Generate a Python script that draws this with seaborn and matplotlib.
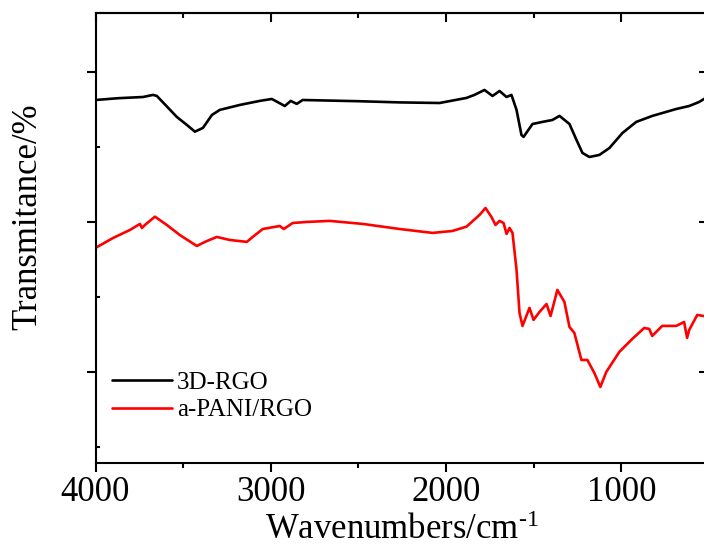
import numpy as np
import pandas as pd
import matplotlib
matplotlib.use("Agg")
import matplotlib.pyplot as plt
from matplotlib.ticker import MultipleLocator, NullFormatter
import seaborn as sns

# ---- data ----
rgo_wn = [4000, 3870, 3729, 3672, 3650, 3593, 3536, 3479, 3433, 3387, 3336, 3291, 3177,
          3063, 2994, 2920, 2886, 2852, 2818, 2500, 2265, 2037, 1883, 1838, 1781, 1735,
          1695, 1655, 1627, 1598, 1570, 1558, 1507, 1450, 1393, 1353, 1296, 1256, 1222,
          1182, 1125, 1068, 994, 915, 823, 687, 613, 556, 500]
rgo_t = [2.813, 2.825, 2.833, 2.847, 2.84, 2.77, 2.70, 2.647, 2.602, 2.627, 2.713, 2.747,
         2.78, 2.807, 2.82, 2.773, 2.807, 2.787, 2.813, 2.805, 2.797, 2.793, 2.827, 2.847,
         2.88, 2.84, 2.873, 2.833, 2.847, 2.747, 2.58, 2.567, 2.653, 2.667, 2.68, 2.707,
         2.653, 2.547, 2.46, 2.433, 2.447, 2.493, 2.593, 2.667, 2.707, 2.753, 2.773, 2.8,
         2.84]

pani_wn = [4000, 3900, 3803, 3746, 3735, 3718, 3661, 3593, 3519, 3422, 3370, 3308, 3234,
           3137, 3103, 3046, 2949, 2926, 2875, 2795, 2664, 2476, 2265, 2077, 1963, 1883,
           1809, 1775, 1741, 1718, 1695, 1672, 1655, 1638, 1621, 1598, 1581, 1564, 1524,
           1501, 1467, 1427, 1404, 1365, 1325, 1296, 1268, 1228, 1194, 1154, 1120, 1086,
           1012, 938, 870, 841, 824, 767, 687, 642, 625, 613, 567, 500]
pani_t = [1.827, 1.893, 1.947, 1.987, 1.96, 1.98, 2.035, 1.98, 1.913, 1.84, 1.87, 1.9,
          1.88, 1.867, 1.9, 1.953, 1.973, 1.953, 1.993, 2.0, 2.007, 1.987, 1.953, 1.927,
          1.94, 1.969, 2.047, 2.093, 2.033, 1.98, 2.007, 1.993, 1.92, 1.96, 1.927, 1.68,
          1.393, 1.307, 1.427, 1.347, 1.4, 1.453, 1.373, 1.547, 1.467, 1.3, 1.26, 1.08,
          1.08, 0.993, 0.9, 1.0, 1.133, 1.22, 1.293, 1.287, 1.24, 1.307, 1.307, 1.333,
          1.227, 1.28, 1.38, 1.367]

series_names = ["3D-RGO", "a-PANI/RGO"]
colors = {"3D-RGO": "black", "a-PANI/RGO": "red"}
x_major = [4000, 3000, 2000, 1000]

df = pd.concat([
    pd.DataFrame({"wn": rgo_wn, "T": rgo_t, "sample": series_names[0]}),
    pd.DataFrame({"wn": pani_wn, "T": pani_t, "sample": series_names[1]}),
])

sns.set_style("ticks")
plt.rcParams["font.family"] = ["Liberation Serif", "DejaVu Serif"]
plt.rcParams["mathtext.fontset"] = "custom"
plt.rcParams["mathtext.rm"] = "Liberation Serif"
plt.rcParams["mathtext.it"] = "Liberation Serif:italic"
for k in ["text.color", "axes.labelcolor", "xtick.color", "ytick.color", "axes.edgecolor"]:
    plt.rcParams[k] = "black"

fig = plt.figure(figsize=(7.04, 5.54), dpi=100)
ax = fig.add_axes([95.5 / 704, (554 - 463) / 554, (709 - 95.5) / 704, (463 - 12.7) / 554])

sns.lineplot(data=df, x="wn", y="T", hue="sample", palette=colors, estimator=None,
             linewidth=1.9, ax=ax, legend=True)

ax.set_xlim(4000, 500)
ax.set_ylim(0.393, 3.395)

for s in ax.spines.values():
    s.set_linewidth(1.5)
    s.set_color("black")

ax.set_xticks(x_major)
ax.set_xticklabels([str(v) for v in x_major])
ax.xaxis.set_minor_locator(MultipleLocator(500))
ax.yaxis.set_major_locator(MultipleLocator(1))
ax.yaxis.set_minor_locator(MultipleLocator(0.5))
ax.yaxis.set_major_formatter(NullFormatter())

ax.tick_params(axis="x", which="major", direction="out", length=6.5, width=1.5,
               labelsize=25, pad=3, colors="black")
ax.tick_params(axis="x", which="minor", direction="out", length=3.6, width=1.5)
ax.tick_params(axis="y", which="major", direction="out", length=6.5, width=1.5)
ax.tick_params(axis="y", which="minor", direction="in", length=3, width=1.5)

top = ax.secondary_xaxis("top")
top.set_xticks(x_major)
top.xaxis.set_minor_locator(MultipleLocator(500))
top.xaxis.set_major_formatter(NullFormatter())
top.tick_params(which="major", direction="in", length=6.5, width=1.5)
top.tick_params(which="minor", direction="in", length=3.6, width=1.5)
for s in top.spines.values():
    s.set_linewidth(1.5)

right = ax.secondary_yaxis("right")
right.yaxis.set_major_locator(MultipleLocator(1))
right.yaxis.set_minor_locator(MultipleLocator(0.5))
right.yaxis.set_major_formatter(NullFormatter())
right.tick_params(which="major", direction="in", length=7, width=1.5)
right.tick_params(which="minor", direction="in", length=3.6, width=1.5)
for s in right.spines.values():
    s.set_linewidth(1.5)

ax.set_xlabel(r"Wavenumbers/cm$^{\text{-1}}$", fontsize=25)
ax.xaxis.label.set_va("baseline")
ax.xaxis.set_label_coords(0.5, (463 - 539) / 450.3)
ax.set_ylabel("Transmitance/%", fontsize=25)
ax.yaxis.set_label_coords(-0.084, (463 - 216.5) / 450.3)

handles, labels = ax.get_legend_handles_labels()
leg = ax.legend(handles, labels, loc="upper left",
                bbox_to_anchor=((112 - 95.5) / 613.5, (463 - 371.5) / 450.3),
                frameon=False, fontsize=18, handlelength=2.4, handletextpad=0.2,
                labelspacing=0.2, borderpad=0, borderaxespad=0)
for line in leg.get_lines():
    line.set_linewidth(1.9)

fig.savefig("out.png", dpi=100)
